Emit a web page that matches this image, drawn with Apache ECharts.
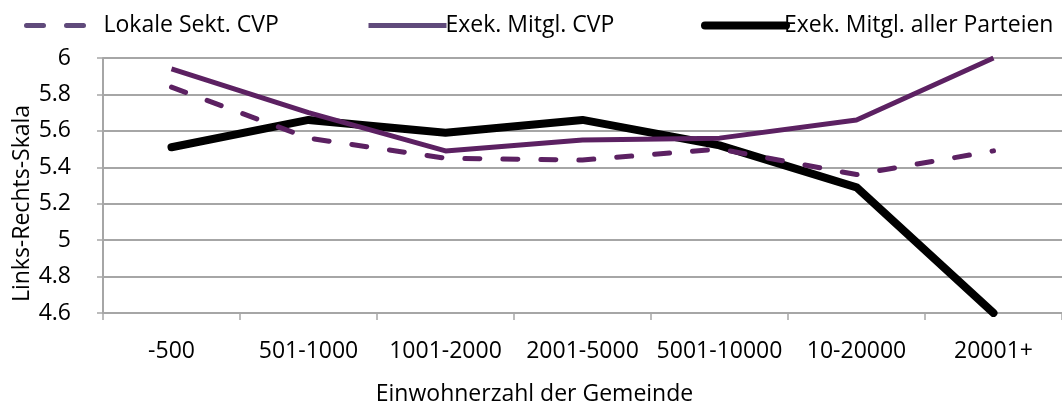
<!DOCTYPE html>
<html>
<head>
<meta charset="utf-8">
<title>Links-Rechts-Skala</title>
<script src="https://cdn.jsdelivr.net/npm/echarts@6/dist/echarts.min.js"></script>
<style>
    html, body { margin: 0; padding: 0; background: #fff; }
    #chart { width: 1062px; height: 405px; }
</style>
</head>
<body>
<div id="chart"></div>
<script>
// categories (Einwohnerzahl)
var categories = ['-500', '501-1000', '1001-2000', '2001-5000', '5001-10000', '10-20000', '20001+'];

// series values
var lokaleSekt = [5.84, 5.56, 5.45, 5.44, 5.50, 5.36, 5.49];
var exekCvp = [5.94, 5.70, 5.49, 5.55, 5.56, 5.66, 6.00];
var exekAlle = [5.51, 5.66, 5.59, 5.66, 5.52, 5.29, 4.60];

var seriesNames = ['Lokale Sekt. CVP', 'Exek. Mitgl. CVP', 'Exek. Mitgl. aller Parteien'];

var FONT = 'Open Sans';
var FS = 23;
var purple = '#5C2162';
var legendPurple = '#604A7B';
var gridGray = '#A6A6A6';

var myChart = echarts.init(document.getElementById('chart'));

var option = {
    animation: false,
    backgroundColor: '#fff',
    textStyle: { fontFamily: FONT },
    grid: { left: 103, right: 0, top: 58, bottom: 92, outerBoundsMode: 'none', containLabel: false },
    legend: [{
        left: 24, top: 14, padding: 0,
        itemWidth: 63, itemHeight: 8, itemGap: 0,
        itemStyle: { opacity: 0 },
        textStyle: { fontSize: FS, color: '#000', fontFamily: FONT, padding: [0, 0, 0, 9] },
        data: [{ name: seriesNames[0], lineStyle: { color: legendPurple, width: 5, type: [17, 23], cap: 'round' } }]
    }, {
        left: 366, top: 14, padding: 0,
        itemWidth: 78, itemHeight: 8, itemGap: 0,
        itemStyle: { opacity: 0 },
        textStyle: { fontSize: FS, color: '#000', fontFamily: FONT, padding: [0, 0, 0, -6] },
        data: [{ name: seriesNames[1], lineStyle: { color: legendPurple, width: 5 } }]
    }, {
        left: 701, top: 14, padding: 0,
        itemWidth: 81, itemHeight: 8, itemGap: 0,
        itemStyle: { opacity: 0 },
        textStyle: { fontSize: FS, color: '#000', fontFamily: FONT, padding: [0, 0, 0, -7] },
        data: [{ name: seriesNames[2], lineStyle: { color: '#000', width: 8, cap: 'round' } }]
    }],
    xAxis: {
        type: 'category',
        data: categories,
        boundaryGap: true,
        name: 'Einwohnerzahl der Gemeinde',
        nameLocation: 'middle',
        nameGap: 70,
        nameTextStyle: { fontSize: FS, color: '#000', fontFamily: FONT, padding: [0, 96, 0, 0] },
        axisLine: { lineStyle: { color: gridGray, width: 2 } },
        axisTick: { show: true, interval: 0, length: 7, lineStyle: { color: gridGray, width: 1.5 } },
        axisLabel: { interval: 0, fontSize: FS, color: '#000', margin: 27, fontFamily: FONT },
        splitLine: { show: false }
    },
    yAxis: {
        type: 'value',
        min: 4.6,
        max: 6,
        interval: 0.2,
        name: 'Links-Rechts-Skala',
        nameLocation: 'middle',
        nameGap: 69,
        nameRotate: 90,
        nameMoveOverlap: false,
        nameTextStyle: { fontSize: FS, color: '#000', fontFamily: FONT, padding: [0, 36, 0, 0] },
        axisLine: { show: true, lineStyle: { color: gridGray, width: 2 } },
        axisTick: { show: true, length: 6, lineStyle: { color: gridGray, width: 1.5 } },
        axisLabel: { fontSize: FS, color: '#000', margin: 32, fontFamily: FONT,
            formatter: function (v) { return String(Math.round(v * 10) / 10); } },
        splitLine: { show: true, lineStyle: { color: gridGray, width: 2 } }
    },
    series: [{
        name: seriesNames[0],
        type: 'line',
        data: lokaleSekt,
        symbol: 'none',
        lineStyle: { color: purple, width: 5, type: [15, 23], cap: 'round' },
        itemStyle: { color: purple },
        z: 3
    }, {
        name: seriesNames[1],
        type: 'line',
        data: exekCvp,
        symbol: 'none',
        lineStyle: { color: purple, width: 5 },
        itemStyle: { color: purple },
        z: 4
    }, {
        name: seriesNames[2],
        type: 'line',
        data: exekAlle,
        symbol: 'none',
        lineStyle: { color: '#000', width: 8, cap: 'round', join: 'round' },
        itemStyle: { color: '#000' },
        z: 2
    }]
};

myChart.setOption(option);
</script>
</body>
</html>
